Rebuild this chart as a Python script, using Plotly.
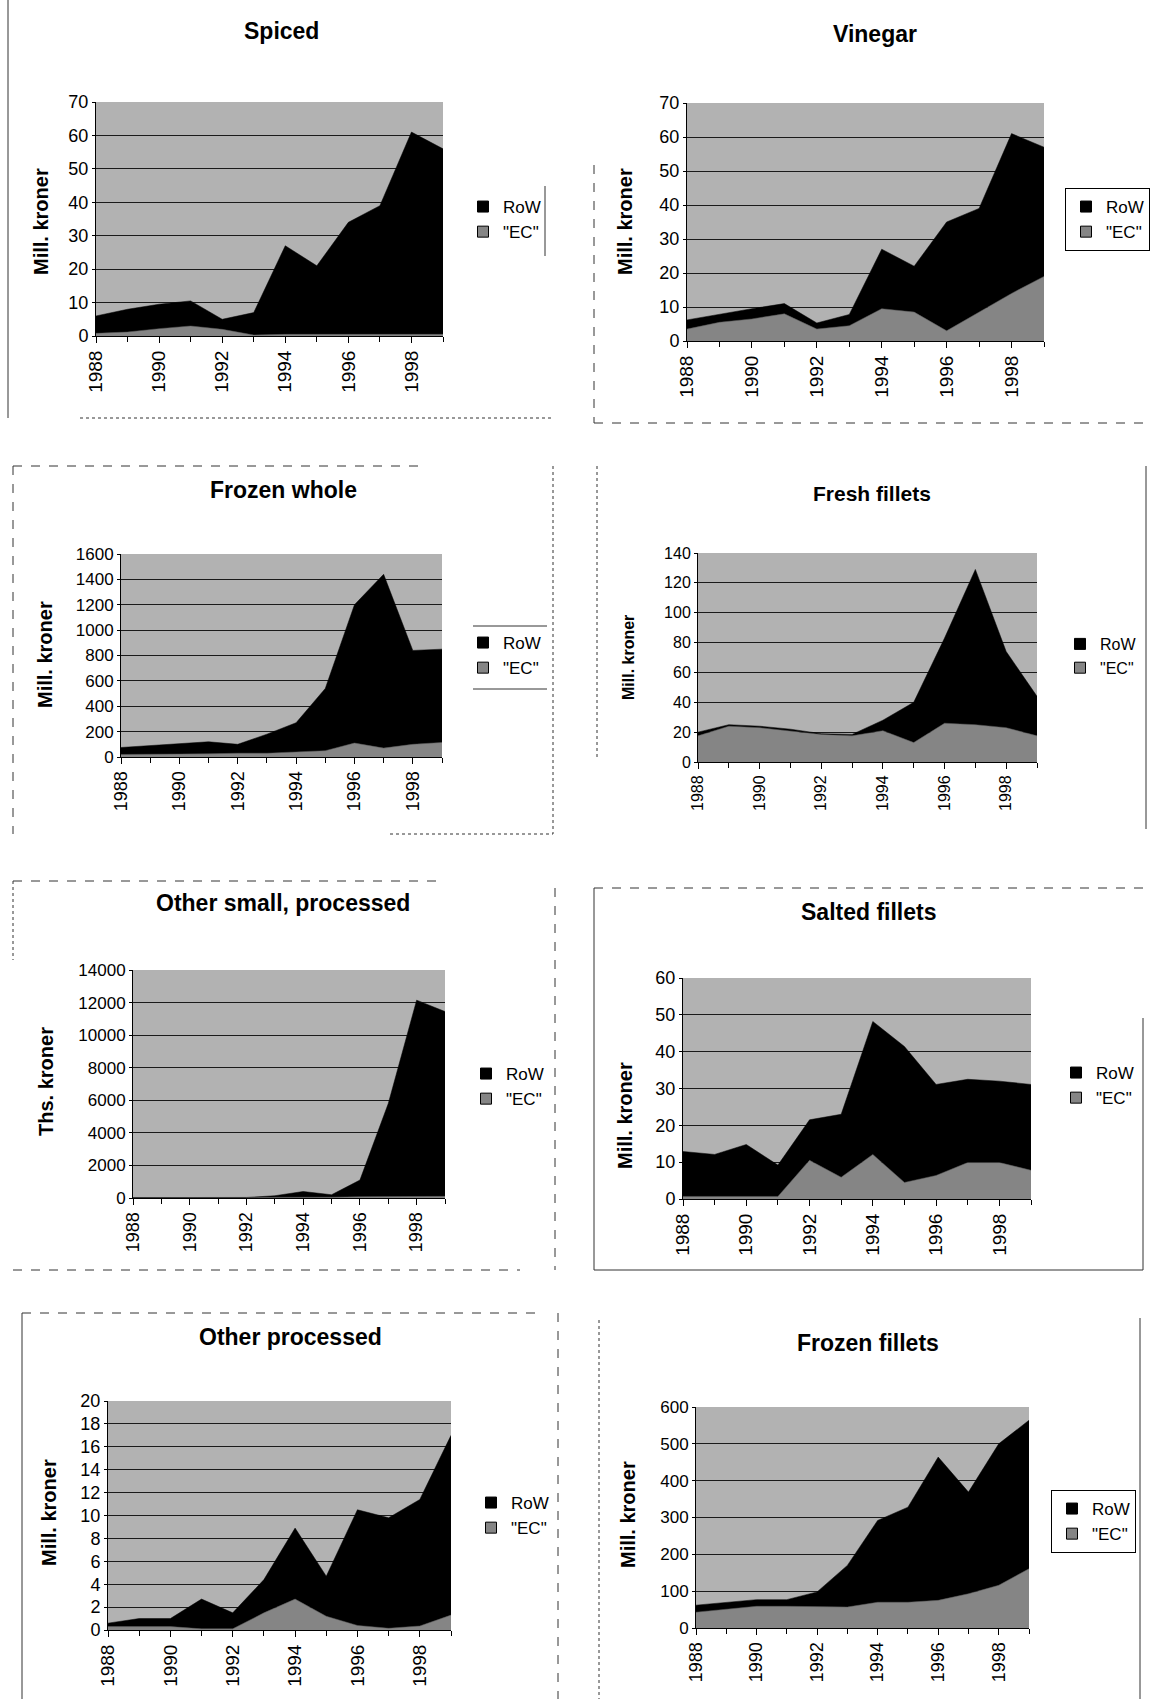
import plotly.graph_objects as go

years = list(range(1988, 2000))
tick_years = [1988, 1990, 1992, 1994, 1996, 1998]

titles = ["Spiced", "Vinegar", "Frozen whole", "Fresh fillets",
          "Other small, processed", "Salted fillets", "Other processed", "Frozen fillets"]
y_titles = ["Mill. kroner", "Mill. kroner", "Mill. kroner", "Mill. kroner",
            "Ths. kroner", "Mill. kroner", "Mill. kroner", "Mill. kroner"]
y_max = [70, 70, 1600, 140, 14000, 60, 20, 600]
y_step = [10, 10, 200, 20, 2000, 10, 2, 100]
series_names = ["RoW", '"EC"']

spiced_ec = [0.8, 1.2, 2.2, 3.0, 2.0, 0.3, 0.5, 0.5, 0.5, 0.5, 0.5, 0.5]
spiced_row = [5.2, 6.8, 7.3, 7.5, 3.0, 6.7, 26.5, 20.5, 33.5, 38.5, 60.5, 55.5]

vinegar_ec = [3.5, 5.5, 6.5, 8.0, 3.5, 4.5, 9.5, 8.5, 3.0, 8.5, 14.0, 19.0]
vinegar_row = [2.7, 2.4, 3.0, 3.0, 1.8, 3.3, 17.5, 13.5, 32.0, 30.5, 47.0, 38.0]

frozen_whole_ec = [20, 20, 25, 25, 30, 30, 40, 50, 110, 70, 100, 115]
frozen_whole_row = [55, 70, 78, 95, 70, 150, 230, 490, 1090, 1370, 740, 735]

fresh_fillets_ec = [17.5, 24, 23, 21, 18.5, 17.5, 21, 13, 26, 25, 23, 17.5]
fresh_fillets_row = [2.5, 1, 1, 1, 0.5, 1, 7, 27, 57, 104, 51, 26.5]

other_small_ec = [20, 20, 20, 20, 20, 20, 50, 50, 80, 80, 100, 100]
other_small_row = [10, 10, 10, 10, 10, 120, 350, 150, 1020, 5720, 12050, 11350]

salted_fillets_ec = [0.7, 0.7, 0.7, 0.7, 10.5, 5.9, 12.1, 4.5, 6.4, 9.9, 9.9, 7.8]
salted_fillets_row = [12.2, 11.4, 14.1, 8.5, 11.0, 17.1, 36.1, 36.9, 24.7, 22.6, 22.1, 23.3]

other_processed_ec = [0.3, 0.3, 0.3, 0.1, 0.1, 1.5, 2.7, 1.2, 0.4, 0.15, 0.35, 1.3]
other_processed_row = [0.3, 0.7, 0.7, 2.6, 1.4, 2.9, 6.2, 3.5, 10.1, 9.65, 11.05, 15.7]

frozen_fillets_ec = [43, 52, 59, 59, 59, 57, 70, 70, 75, 93, 116, 161]
frozen_fillets_row = [19, 18, 18, 18, 39, 113, 222, 258, 389, 276, 384, 403]

ec_data = [spiced_ec, vinegar_ec, frozen_whole_ec, fresh_fillets_ec,
           other_small_ec, salted_fillets_ec, other_processed_ec, frozen_fillets_ec]
row_data = [spiced_row, vinegar_row, frozen_whole_row, fresh_fillets_row,
            other_small_row, salted_fillets_row, other_processed_row, frozen_fillets_row]

W, H = 1155, 1699
def px(x):
    return x / W
def py(y):
    return 1 - y / H

# plot boxes (left, right, top, bottom) in pixels
boxes = [(96, 443, 102, 336), (687, 1044, 103, 341),
         (121, 442, 554, 757), (698, 1037, 553, 762),
         (133, 445, 970, 1198), (683, 1031, 978, 1199),
         (108, 451, 1401, 1630), (696, 1029, 1407, 1628)]
title_pos = [(281, 31), (875, 34), (283, 490), (872, 493),
             (283, 903), (868, 912), (290, 1337), (868, 1343)]
ytitle_pos = [(41, 222), (625, 222), (45, 655), (628, 658),
              (46, 1082), (625, 1116), (49, 1513), (628, 1515)]
# legend: (symbol centre x, first row centre y)
legend_pos = [(485, 204), (1087, 203), (485, 640), (1082, 642),
              (488, 1071), (1078, 1070), (493, 1500), (1073, 1505)]
legend_border = [False, True, False, False, False, False, False, True]
tick_size = [18, 18, 17, 16, 17, 18, 18, 17]
xtick_size = [19, 19, 18, 16, 18, 19, 19, 18]

BG = "#b2b2b2"
EC_COL = "#858585"
ROW_COL = "#000000"
FONT = "Liberation Sans, Arial, sans-serif"

fig = go.Figure()
layout = dict(width=W, height=H, margin=dict(l=0, r=0, t=0, b=0, pad=0, autoexpand=False),
              paper_bgcolor="white", plot_bgcolor="white", showlegend=True,
              font=dict(family=FONT, color="black"))
shapes = []
annotations = []

for i in range(8):
    n = i + 1
    xa = "x" if n == 1 else f"x{n}"
    ya = "y" if n == 1 else f"y{n}"
    lg = "legend" if n == 1 else f"legend{n}"
    l, r, t, b = boxes[i]
    fig.add_trace(go.Scatter(x=years, y=ec_data[i], name=series_names[1], mode="lines",
                             stackgroup=f"s{n}", fillcolor=EC_COL,
                             line=dict(color="#555555", width=0.5),
                             xaxis=xa, yaxis=ya, showlegend=False))
    fig.add_trace(go.Scatter(x=years, y=row_data[i], name=series_names[0], mode="lines",
                             stackgroup=f"s{n}", fillcolor=ROW_COL,
                             line=dict(color="black", width=0.5),
                             xaxis=xa, yaxis=ya, showlegend=False))
    fig.add_trace(go.Scatter(x=[None], y=[None], mode="markers", name=series_names[0],
                             marker=dict(symbol="square", size=11, color=ROW_COL,
                                         line=dict(color="black", width=1)),
                             xaxis=xa, yaxis=ya, legend=lg))
    fig.add_trace(go.Scatter(x=[None], y=[None], mode="markers", name=series_names[1],
                             marker=dict(symbol="square", size=11, color=EC_COL,
                                         line=dict(color="black", width=1)),
                             xaxis=xa, yaxis=ya, legend=lg))
    xkey = "xaxis" if n == 1 else f"xaxis{n}"
    ykey = "yaxis" if n == 1 else f"yaxis{n}"
    layout[xkey] = dict(domain=[px(l), px(r)], anchor=ya, range=[1988, 1999],
                        tickvals=tick_years, tickangle=-90, showgrid=False,
                        showline=True, linecolor="black", linewidth=1,
                        ticks="outside", ticklen=6, tickcolor="black",
                        minor=dict(dtick=1, tick0=1988, ticks="outside", ticklen=5,
                                   tickcolor="black", showgrid=False),
                        tickfont=dict(size=xtick_size[i]), zeroline=False,
                        automargin=False)
    layout[ykey] = dict(domain=[py(b), py(t)], anchor=xa, range=[0, y_max[i]],
                        dtick=y_step[i], tick0=0, tickformat="d",
                        showgrid=True, gridcolor="#1a1a1a",
                        gridwidth=1, showline=True, linecolor="black", linewidth=1,
                        ticks="outside", ticklen=3, tickcolor="black",
                        tickfont=dict(size=tick_size[i]), zeroline=False,
                        automargin=False)
    shapes.append(dict(type="rect", xref=f"{xa} domain", yref=f"{ya} domain",
                       x0=0, x1=1, y0=0, y1=1, fillcolor=BG, line=dict(width=0),
                       layer="below"))
    sx, sy = legend_pos[i]
    layout[lg] = dict(x=px(sx - 22), y=py(sy - 15), xanchor="left", yanchor="top",
                      traceorder="normal", font=dict(size=17 if i != 3 else 16),
                      bgcolor="rgba(255,255,255,0)",
                      bordercolor="black", borderwidth=1 if legend_border[i] else 0,
                      itemwidth=30, tracegroupgap=0)
    tx, ty = title_pos[i]
    annotations.append(dict(text=f"<b>{titles[i]}</b>", x=px(tx), y=py(ty),
                            xref="paper", yref="paper", showarrow=False,
                            font=dict(size=23 if i != 3 else 21),
                            xanchor="center", yanchor="middle"))
    yx, yy = ytitle_pos[i]
    annotations.append(dict(text=f"<b>{y_titles[i]}</b>", x=px(yx), y=py(yy),
                            xref="paper", yref="paper", showarrow=False, textangle=-90,
                            font=dict(size=20 if i != 3 else 16),
                            xanchor="center", yanchor="middle"))

# scanned page frame lines (x0, y0, x1, y1, dash)
frames = [
    (8, 0, 8, 418, "solid"), (80, 418, 553, 418, "dot"),
    (594, 165, 594, 423, "dash"), (594, 423, 1150, 423, "dash"),
    (13, 466, 423, 466, "dash"), (13, 466, 13, 834, "dash"),
    (553, 466, 553, 834, "dot"), (390, 834, 553, 834, "dot"),
    (597, 466, 597, 760, "dot"), (1146, 466, 1146, 829, "solid"),
    (13, 881, 440, 881, "dash"), (13, 881, 13, 960, "dot"),
    (13, 1270, 520, 1270, "dash"), (555, 888, 555, 1270, "dash"),
    (594, 888, 1143, 888, "dash"), (594, 888, 594, 1270, "solid"),
    (594, 1270, 1143, 1270, "solid"), (1143, 1018, 1143, 1270, "solid"),
    (22, 1313, 542, 1313, "dash"), (22, 1313, 22, 1699, "solid"),
    (558, 1313, 558, 1699, "dash"),
    (599, 1320, 599, 1699, "dot"), (1140, 1318, 1140, 1699, "solid"),
    (545, 186, 545, 256, "solid"), (473, 626, 547, 626, "solid"),
    (473, 689, 547, 689, "solid"),
]
for x0, y0, x1, y1, d in frames:
    shapes.append(dict(type="line", xref="paper", yref="paper",
                       x0=px(x0), y0=py(y0), x1=px(x1), y1=py(y1),
                       line=dict(color="#333333", width=1, dash=d)))

layout["shapes"] = shapes
layout["annotations"] = annotations
fig.update_layout(**layout)
fig.write_html("out.html", config={"displayModeBar": False},
               post_script="document.body.style.margin='0px';")
